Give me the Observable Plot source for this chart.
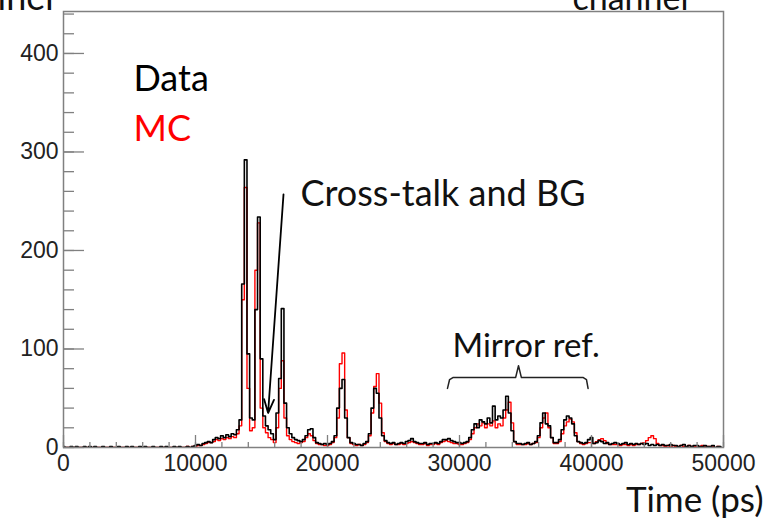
<!DOCTYPE html>
<html><head><meta charset="utf-8">
<script src="https://cdn.jsdelivr.net/npm/d3@7"></script>
<script src="https://cdn.jsdelivr.net/npm/@observablehq/plot@0.6"></script>
<style>body{margin:0;background:#fff;overflow:hidden} #chart svg{display:block}</style>
</head><body><div id="chart"></div>
<script>
// Histogram bin width (ps); bin i is centred on i*binWidth
const binWidth = 200;

// Data (black) counts, 250 bins, 10 per row (2000 ps per row)
const dataCounts = [
  1,0,0,1,0,1,0,0,1,0,
  1,0,1,0,0,1,0,0,1,0,
  0,1,0,0,1,0,1,0,0,1,
  0,1,0,0,1,0,0,1,0,1,
  0,0,1,0,1,0,0,1,0,1,
  2,3,2,4,5,6,5,8,10,9,
  12,10,13,11,14,13,18,28,166,292,
  95,30,28,140,234,90,32,22,18,14,
  8,35,70,141,45,20,14,10,8,7,
  6,8,12,18,19,10,5,4,3,4,
  3,4,6,12,40,60,69,30,10,5,
  4,3,3,2,4,6,14,40,60,55,
  30,12,7,5,4,5,3,4,5,4,
  6,7,9,6,5,4,4,5,3,4,
  4,5,4,6,8,8,9,7,6,5,
  5,4,5,6,10,18,24,20,28,26,
  24,30,25,42,28,32,30,38,52,35,
  17,6,4,4,3,4,5,3,4,6,
  12,25,35,24,22,10,5,5,8,18,
  28,32,30,24,12,6,5,4,5,8,
  10,4,5,7,6,4,5,3,4,5,
  4,3,4,5,3,4,3,4,3,4,
  3,4,2,3,2,3,2,3,2,2,
  3,2,2,1,2,3,1,2,1,2,
  2,1,1,2,1,1,2,0,1,1
];

// MC (red) counts, same binning
const mcCounts = [
  0,0,0,0,0,0,0,0,0,0,
  0,0,0,0,0,0,0,0,0,0,
  0,0,0,0,0,0,0,0,0,0,
  0,0,0,0,0,0,0,0,0,0,
  0,0,0,0,0,0,0,1,0,1,
  1,2,2,3,4,5,5,6,8,7,
  9,8,10,9,11,10,14,22,150,264,
  60,17,20,180,228,40,20,15,10,8,
  5,20,60,88,30,12,8,6,5,4,
  5,6,10,14,12,7,4,3,3,2,
  2,3,5,10,30,85,96,38,10,4,
  3,2,3,2,3,5,12,35,62,75,
  45,15,6,4,3,4,3,3,4,3,
  4,5,6,5,4,3,3,4,2,3,
  3,4,3,5,6,7,6,5,4,4,
  3,3,4,5,8,14,20,24,22,25,
  20,24,22,27,20,24,22,30,38,46,
  25,6,3,3,3,3,4,3,4,5,
  10,20,30,35,20,10,4,4,6,14,
  22,26,29,26,15,6,4,3,4,5,
  5,4,6,8,9,7,4,3,3,3,
  3,2,3,3,2,3,2,3,3,4,
  5,7,10,12,9,4,2,2,1,2,
  1,2,1,1,2,1,1,2,1,1,
  1,1,2,1,1,1,1,0,1,0
];

const xDomain = [0, 50000];
const yDomain = [0, 442.6];
const xMajorTicks = [0, 10000, 20000, 30000, 40000, 50000];
const xMinorTicks = d3.range(0, 50001, 2000);
const yMajorTicks = [0, 100, 200, 300, 400];
const yMinorTicks = d3.range(0, 441, 20);

const legendLabels = ["Data", "MC"];
const legendColors = ["#000000", "#ff0000"];

// annotations (data coordinates)
const legendPos = [{x: 5300, y: 362}, {x: 5300, y: 311}];
const crossTalkLabel = {x: 17955, y: 245, text: "Cross-talk and BG"};
const crossTalkArrow = {x1: 16667, y1: 257, x2: 15500, y2: 35};
const mirrorLabel = {x: 29470, y: 92, text: "Mirror ref."};
const braceX = [29090, 29250, 29500, 34250, 34470, 34690, 39380, 39620, 39740];
const braceY = [60, 69, 71, 71, 83, 71, 71, 69, 60];

const toRows = counts => counts.map((c, i) => ({t: i * binWidth, c}));
const dataRows = toRows(dataCounts);
const mcRows = toRows(mcCounts);
const braceRows = braceX.map((x, i) => ({x, y: braceY[i]}));

const W = 766, H = 522, mL = 63, mR = 43, mT = 11, mB = 75;
const frameW = W - mL - mR, frameH = H - mT - mB;
const axisColor = "#808080";
const labelFont = "Liberation Sans, Arial, sans-serif";
const annFont = "Lato, 'Open Sans', sans-serif";

const chart = Plot.plot({
  width: W, height: H,
  marginLeft: mL, marginRight: mR, marginTop: mT, marginBottom: mB,
  style: {fontFamily: labelFont, background: "#fff", overflow: "hidden"},
  x: {domain: xDomain, axis: null},
  y: {domain: yDomain, axis: null},
  marks: [
    // histograms
    Plot.line(mcRows, {x: "t", y: "c", curve: "step", stroke: "#ff0000", strokeWidth: 1.4, clip: true}),
    Plot.line(dataRows, {x: "t", y: "c", curve: "step", stroke: "#000000", strokeWidth: 1.6, clip: true}),
    // frame
    Plot.frame({stroke: axisColor, strokeWidth: 1.5}),
    // y ticks (inside)
    Plot.tickY(yMinorTicks, {y: d => d, insetRight: frameW - 11, stroke: axisColor, strokeWidth: 1.3}),
    Plot.tickY(yMajorTicks, {y: d => d, insetRight: frameW - 21, stroke: axisColor, strokeWidth: 1.3}),
    // x ticks (inside)
    Plot.tickX(xMinorTicks, {x: d => d, insetTop: frameH - 5, stroke: axisColor, strokeWidth: 1.3}),
    Plot.tickX(xMajorTicks, {x: d => d, insetTop: frameH - 12, stroke: axisColor, strokeWidth: 1.3}),
    // tick labels
    Plot.axisY({ticks: yMajorTicks, tickSize: 0, tickPadding: 5, fontSize: 23, fill: "#222", tickFormat: d => String(d)}),
    Plot.axisX({ticks: xMajorTicks, tickSize: 0, tickPadding: 7, fontSize: 23, fill: "#222", tickFormat: d => String(d)}),
    // axis title
    Plot.text(["Time (ps)"], {frameAnchor: "bottom-right", dx: 40, dy: 64, textAnchor: "end", lineAnchor: "bottom", fontSize: 35, fontFamily: annFont, fill: "#111"}),
    // cut-off texts at top
    Plot.text(["iner"], {frameAnchor: "top-left", dx: -66, dy: -2, textAnchor: "start", lineAnchor: "bottom", fontSize: 36, fontFamily: annFont, fill: "#111"}),
    Plot.text(["channel"], {frameAnchor: "top-left", dx: 509, dy: -2, textAnchor: "start", lineAnchor: "bottom", fontSize: 34, fontFamily: annFont, fill: "#111"}),
    // legend text
    Plot.text(legendLabels, {x: (d, i) => legendPos[i].x, y: (d, i) => legendPos[i].y, text: d => d, fill: (d, i) => legendColors[i], textAnchor: "start", lineAnchor: "bottom", fontSize: 36, fontFamily: annFont}),
    // cross-talk annotation
    Plot.text([crossTalkLabel], {x: "x", y: "y", text: "text", textAnchor: "start", lineAnchor: "bottom", fontSize: 36, fontFamily: annFont, fill: "#111"}),
    Plot.arrow([crossTalkArrow], {x1: "x1", y1: "y1", x2: "x2", y2: "y2", stroke: "#000", strokeWidth: 1.8, headLength: 12, headAngle: 40}),
    // mirror reflection annotation
    Plot.text([mirrorLabel], {x: "x", y: "y", text: "text", textAnchor: "start", lineAnchor: "bottom", fontSize: 33, fontFamily: annFont, fill: "#111"}),
    Plot.line(braceRows, {x: "x", y: "y", stroke: "#222", strokeWidth: 1.5, curve: "linear"})
  ]
});
document.getElementById("chart").append(chart);
</script>
</body></html>
